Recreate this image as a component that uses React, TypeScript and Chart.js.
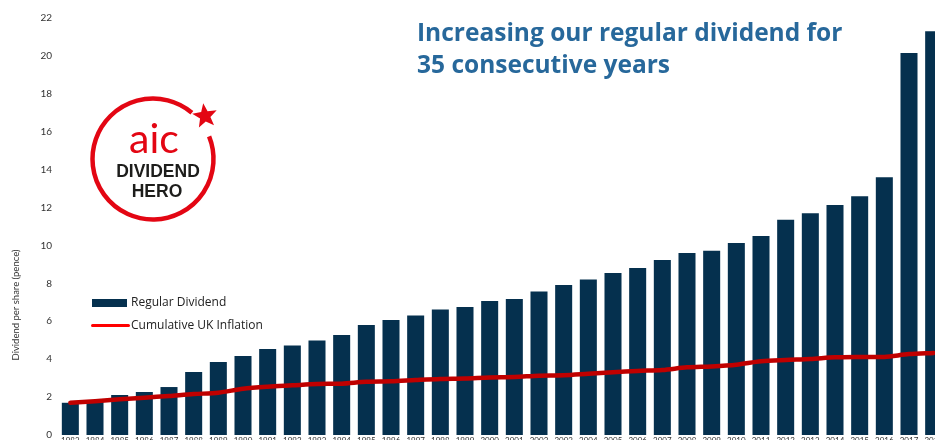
import React, { useEffect, useRef } from "react";
import { Chart, registerables } from "chart.js";

Chart.register(...registerables);

const years = ["1983","1984","1985","1986","1987","1988","1989","1990","1991","1992","1993","1994","1995","1996","1997","1998","1999","2000","2001","2002","2003","2004","2005","2006","2007","2008","2009","2010","2011","2012","2013","2014","2015","2016","2017","2018"];

const regularDividend = [1.70, 1.78, 2.11, 2.27, 2.53, 3.32, 3.85, 4.17, 4.54, 4.72, 4.98, 5.28, 5.80, 6.07, 6.30, 6.62, 6.75, 7.07, 7.18, 7.57, 7.92, 8.20, 8.55, 8.81, 9.23, 9.60, 9.72, 10.13, 10.50, 11.35, 11.70, 12.14, 12.60, 13.60, 20.15, 21.30];

const ukInflation = [1.70, 1.78, 1.88, 1.97, 2.06, 2.16, 2.23, 2.44, 2.55, 2.62, 2.69, 2.71, 2.81, 2.83, 2.90, 2.96, 2.98, 3.04, 3.06, 3.13, 3.15, 3.23, 3.31, 3.38, 3.43, 3.57, 3.62, 3.71, 3.89, 3.96, 4.01, 4.10, 4.12, 4.12, 4.27, 4.33];

const yTicks = { min: 0, max: 22, step: 2 };
const yTitle = "Dividend per share (pence)";
const seriesNames = ["Regular Dividend", "Cumulative UK Inflation"];
const titleLines = ["Increasing our regular dividend for", "35 consecutive years"];

const NAVY = "#05304e";
const LINE_RED = "#c00000";
const LOGO_RED = "#e30613";

const yTitlePlugin = {
  id: "yTitlePlugin",
  afterDraw(chart: any) {
    const ctx = chart.ctx;
    ctx.save();
    ctx.translate(16, 305);
    ctx.rotate(-Math.PI / 2);
    ctx.font = "9.5px Lato";
    ctx.fillStyle = "#333";
    ctx.textAlign = "center";
    ctx.textBaseline = "middle";
    ctx.fillText(yTitle, 0, 0);
    ctx.restore();
  },
};

export default function App() {
  const ref = useRef<HTMLCanvasElement | null>(null);

  useEffect(() => {
    if (!ref.current) return;
    const chart = new Chart(ref.current, {
      type: "bar",
      data: {
        labels: years,
        datasets: [
          {
            type: "line",
            label: seriesNames[1],
            data: ukInflation,
            borderColor: LINE_RED,
            backgroundColor: LINE_RED,
            borderWidth: 4.5,
            pointRadius: 0,
            tension: 0.3,
            borderCapStyle: "round",
            order: 0,
          } as any,
          {
            type: "bar",
            label: seriesNames[0],
            data: regularDividend,
            backgroundColor: NAVY,
            barPercentage: 0.69,
            categoryPercentage: 1,
            order: 1,
          },
        ],
      },
      options: {
        animation: false,
        responsive: false,
        devicePixelRatio: 1,
        layout: { padding: { top: 18, right: 4, left: 0, bottom: 0 } },
        plugins: {
          legend: { display: false },
          tooltip: { enabled: false },
        },
        scales: {
          x: {
            grid: { display: false, drawTicks: false },
            border: { display: false },
            ticks: {
              autoSkip: false,
              maxRotation: 0,
              minRotation: 0,
              padding: 1,
              color: "#333",
              font: { family: "Lato", size: 8 },
            },
            afterFit: (s: any) => {
              s.height = 25;
            },
          },
          y: {
            min: yTicks.min,
            max: yTicks.max,
            grid: { display: false, drawTicks: false },
            border: { display: false },
            ticks: {
              stepSize: yTicks.step,
              padding: 6,
              color: "#333",
              font: { family: "Lato", size: 10 },
            },
            afterFit: (s: any) => {
              s.width = 58;
            },
          },
        },
      },
      plugins: [yTitlePlugin],
    });
    return () => chart.destroy();
  }, []);

  return (
    <div
      style={{
        position: "absolute",
        left: 0,
        top: 0,
        width: 935,
        height: 440,
        overflow: "hidden",
        background: "#fff",
        fontFamily: "Lato, sans-serif",
      }}
    >
      <canvas ref={ref} width={950} height={460} style={{ width: 950, height: 460, display: "block" }} />
      <div
        style={{
          position: "absolute",
          left: 417,
          top: 16,
          fontSize: 24.5,
          lineHeight: "32px",
          fontWeight: 700,
          fontFamily: "'Open Sans', sans-serif",
          color: "#27689b",
          whiteSpace: "nowrap",
        }}
      >
        {titleLines[0]}
        <br />
        {titleLines[1]}
      </div>
      <svg
        width={160}
        height={150}
        style={{ position: "absolute", left: 80, top: 90 }}
        viewBox="80 90 160 150"
      >
        <path
          d={describeArc(153, 159, 60.5, -22, 310)}
          fill="none"
          stroke={LOGO_RED}
          strokeWidth={4.5}
        />
        <polygon points={starPoints(205, 116, 13, 5.5, -8)} fill={LOGO_RED} />
        <text x={154} y={153} textAnchor="middle" fontFamily="Lato" fontSize={41} fill={LOGO_RED}>
          aic
        </text>
        <text x={158} y={177} textAnchor="middle" fontFamily="Liberation Sans, Arial" fontWeight={700} fontSize={17.5} fill="#1d1d1b">
          DIVIDEND
        </text>
        <text x={157} y={197} textAnchor="middle" fontFamily="Liberation Sans, Arial" fontWeight={700} fontSize={17.5} fill="#1d1d1b">
          HERO
        </text>
      </svg>
      <div style={{ position: "absolute", left: 92, top: 299, width: 35, height: 7.5, background: NAVY }} />
      <div
        style={{ position: "absolute", left: 131, top: 294, fontSize: 12, lineHeight: "16px", fontFamily: "'Open Sans', sans-serif", color: "#222", whiteSpace: "nowrap" }}
      >
        {seriesNames[0]}
      </div>
      <div style={{ position: "absolute", left: 91, top: 323.5, width: 39, height: 3, background: "#ff0000", borderRadius: 1.5 }} />
      <div
        style={{ position: "absolute", left: 131, top: 317, fontSize: 12, lineHeight: "16px", fontFamily: "'Open Sans', sans-serif", color: "#222", whiteSpace: "nowrap" }}
      >
        {seriesNames[1]}
      </div>
    </div>
  );
}

function describeArc(cx: number, cy: number, r: number, startDeg: number, endDeg: number) {
  const toXY = (deg: number) => {
    const a = (deg * Math.PI) / 180;
    return [cx + r * Math.cos(a), cy + r * Math.sin(a)];
  };
  const [x1, y1] = toXY(startDeg);
  const [x2, y2] = toXY(endDeg);
  const large = endDeg - startDeg > 180 ? 1 : 0;
  return `M ${x1} ${y1} A ${r} ${r} 0 ${large} 1 ${x2} ${y2}`;
}

function starPoints(cx: number, cy: number, outer: number, inner: number, rotDeg: number) {
  const pts: string[] = [];
  for (let i = 0; i < 10; i++) {
    const r = i % 2 === 0 ? outer : inner;
    const a = ((rotDeg - 90 + i * 36) * Math.PI) / 180;
    pts.push(`${cx + r * Math.cos(a)},${cy + r * Math.sin(a)}`);
  }
  return pts.join(" ");
}
